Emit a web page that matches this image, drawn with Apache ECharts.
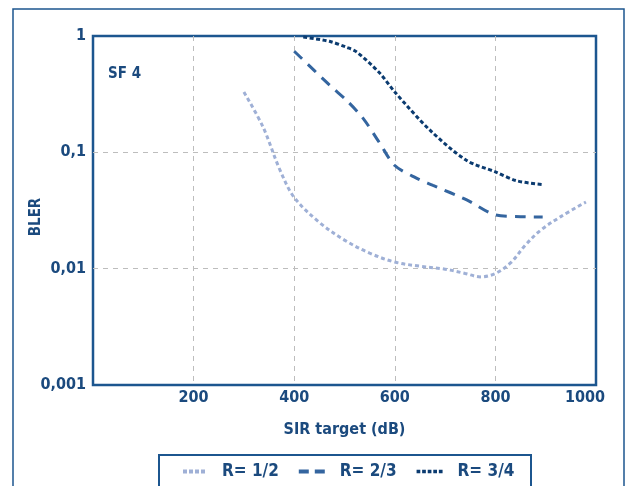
<!DOCTYPE html>
<html>
<head>
<meta charset="utf-8">
<script src="https://cdn.jsdelivr.net/npm/echarts@6/dist/echarts.min.js"></script>
<style>
  html, body { margin: 0; padding: 0; background: #fff; }
  #chart { width: 630px; height: 486px; }
</style>
</head>
<body>
<div id="chart"></div>
<script>
// BLER versus SIR target, spreading factor 4, three code rates
const seriesNames = ['R= 1/2', 'R= 2/3', 'R= 3/4'];
const xTicks = [200, 400, 600, 800, 1000];

const rate12 = [[300, 0.33], [338, 0.165], [372, 0.07], [400, 0.041], [450, 0.025], [500, 0.0176],
  [550, 0.0136], [600, 0.0114], [650, 0.0105], [700, 0.0099], [740, 0.0091], [770, 0.0085],
  [800, 0.0091], [830, 0.0112], [860, 0.016], [890, 0.0214], [930, 0.028], [980, 0.0374]];
const rate23 = [[400, 0.74], [471, 0.376], [504, 0.28], [537, 0.196], [570, 0.12], [600, 0.077],
  [643, 0.060], [676, 0.052], [743, 0.039], [800, 0.029], [850, 0.028], [894, 0.0278]];
const rate34 = [[418, 0.98], [470, 0.9], [504, 0.80], [524, 0.73], [570, 0.48], [600, 0.33],
  [670, 0.155], [743, 0.085], [800, 0.068], [842, 0.057], [892, 0.053]];

const navy = '#1b4a7e';
const frame = '#1c568f';
const colors = ['#9fb0d6', '#34659f', '#0b3b70'];
const font = '"DejaVu Sans Condensed", "DejaVu Sans", sans-serif';

// legend swatches drawn as little dash blocks
const legendIcons = [
  'path://M0,0h4v4h-4z M6,0h4v4h-4z M12,0h4v4h-4z M18,0h4v4h-4z',
  'path://M0,0h10v4h-10z M16,0h10v4h-10z',
  'path://M0,0h4v4h-4z M6,0h4v4h-4z M12,0h4v4h-4z M18,0h4v4h-4z M24,0h4v4h-4z'
];

const grey = { color: '#bdbdbd', type: [5, 5], width: 1 };

const chart = echarts.init(document.getElementById('chart'));
chart.setOption({
  animation: false,
  backgroundColor: '#fff',
  textStyle: { fontFamily: font },
  grid: { left: 93, top: 36, width: 503, height: 349, show: true,
          borderColor: frame, borderWidth: 2.5 },
  xAxis: {
    type: 'value', min: 0, max: 1000, interval: 200,
    axisLine: { show: false }, axisTick: { show: false },
    splitLine: { show: true, showMinLine: false, showMaxLine: false, lineStyle: grey },
    axisLabel: { color: navy, fontFamily: font, fontWeight: 'bold', fontSize: 16, margin: 5,
      formatter: v => (xTicks.indexOf(v) < 0 ? '' : (v === 1000 ? '{last|1000}' : String(v))),
      rich: { last: { color: navy, fontFamily: font, fontWeight: 'bold', fontSize: 16, padding: [0, 22, 0, 0] } } },
    name: 'SIR target (dB)', nameLocation: 'middle', nameGap: 37,
    nameTextStyle: { color: navy, fontFamily: font, fontWeight: 'bold', fontSize: 16 }
  },
  yAxis: {
    type: 'log', logBase: 10, min: 0.001, max: 1,
    axisLine: { show: false }, axisTick: { show: false },
    splitLine: { show: true, showMinLine: false, showMaxLine: false, lineStyle: grey },
    axisLabel: { color: navy, fontFamily: font, fontWeight: 'bold', fontSize: 16, margin: 7,
      formatter: v => String(Number(v.toPrecision(3))).replace('.', ',') }
  },
  legend: {
    top: 458, left: 178, itemGap: 20, itemWidth: 26, itemHeight: 4,
    data: seriesNames.map((n, i) => ({ name: n, icon: legendIcons[i], itemStyle: { color: colors[i] } })),
    textStyle: { color: navy, fontFamily: font, fontWeight: 'bold', fontSize: 17, padding: [0, 0, 0, 10] }
  },
  graphic: [
    { type: 'rect', shape: { x: 13, y: 9, width: 611, height: 490 },
      style: { fill: 'none', stroke: frame, lineWidth: 1.5 }, silent: true },
    { type: 'rect', shape: { x: 159, y: 455, width: 372, height: 40 },
      style: { fill: 'none', stroke: frame, lineWidth: 2 }, silent: true },
    { type: 'text', x: 108, y: 74,
      style: { text: 'SF 4', fill: navy, fontFamily: font, fontWeight: 'bold', fontSize: 15,
               verticalAlign: 'middle' } },
    { type: 'text', x: 36, y: 217, rotation: Math.PI / 2,
      style: { text: 'BLER', fill: navy, fontFamily: font, fontWeight: 'bold', fontSize: 15,
               align: 'center', verticalAlign: 'middle' } }
  ],
  series: [
    { name: seriesNames[0], type: 'line', data: rate12, smooth: 0.35, symbol: 'none',
      lineStyle: { color: colors[0], width: 3, type: [4, 3] }, itemStyle: { color: colors[0] } },
    { name: seriesNames[1], type: 'line', data: rate23, smooth: 0.3, symbol: 'none',
      lineStyle: { color: colors[1], width: 3, type: [11, 8] }, itemStyle: { color: colors[1] } },
    { name: seriesNames[2], type: 'line', data: rate34, smooth: 0.3, symbol: 'none',
      lineStyle: { color: colors[2], width: 3, type: [4, 2.5] }, itemStyle: { color: colors[2] } }
  ]
});
</script>
</body>
</html>
